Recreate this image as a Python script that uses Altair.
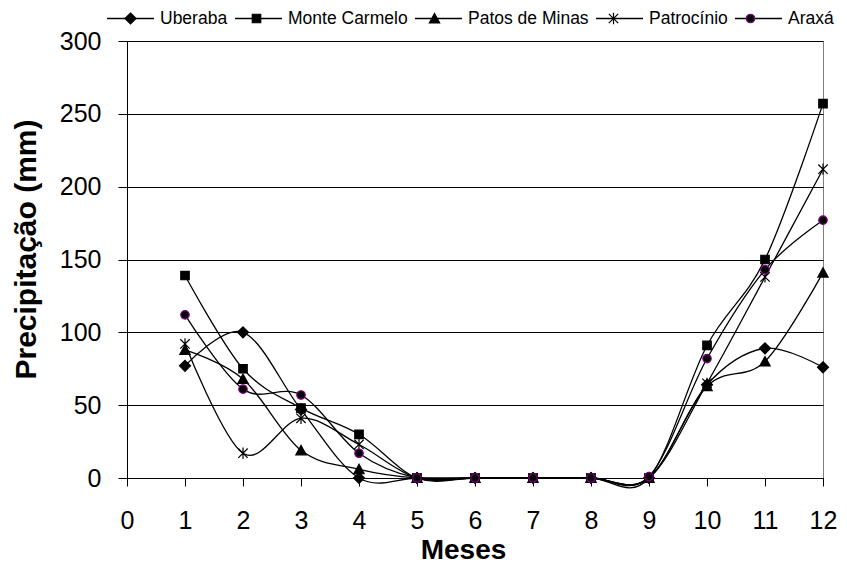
import altair as alt
import pandas as pd

# ---- data ----
months = list(range(1, 13))
series_names = ["Uberaba", "Monte Carmelo", "Patos de Minas", "Patrocínio", "Araxá"]
uberaba = [77, 100, 47, 0, 0, 0, 0, 0, 0, 64, 89, 76]
monte_carmelo = [139, 75, 48, 30, 0, 0, 0, 0, 0, 91, 150, 257]
patos_de_minas = [88, 68, 19, 6, 0, 0, 0, 0, 0, 63, 80, 141]
patrocinio = [92, 17, 41, 23, 0, 0, 0, 0, 0, 65, 138, 212]
araxa = [112, 61, 57, 17, 0, 0, 0, 0, 1, 82, 143, 177]
y_ticks = [0, 50, 100, 150, 200, 250, 300]
x_ticks = list(range(0, 13))

values = [uberaba, monte_carmelo, patos_de_minas, patrocinio, araxa]
rows = []
for name, vals in zip(series_names, values):
    for m, v in zip(months, vals):
        rows.append({"month": m, "value": v, "series": name, "serie_l": name})
df = pd.DataFrame(rows)

# ---- styling ----
FONT = "Liberation Sans"
SYM = 2209  # legend symbol size -> 47 px line
marker_paths = [
    "M0,-0.234L0.234,0L0,0.234L-0.234,0Z",                       # diamond
    "M-0.18,-0.18L0.18,-0.18L0.18,0.18L-0.18,0.18Z",             # square
    "M0,-0.21L0.22,0.19L-0.22,0.19Z",                            # triangle
    "M-0.2,-0.2L0.2,0.2M-0.2,0.2L0.2,-0.2M0,-0.24L0,0.24",       # asterisk
    "M0.18,0A0.18,0.18,0,1,1,-0.18,0A0.18,0.18,0,1,1,0.18,0Z",   # circle
]
fill_colors = ["#000000", "#000000", "#000000", "#000000", "#000000"]
stroke_colors = ["#000000", "#000000", "#000000", "#000000", "#800080"]
line_colors = ["#000000"] * 5

def legend(symbol_type=None, visible_labels=True, sw=1.2):
    kw = dict(
        orient="none", legendX=-21, legendY=-47, direction="horizontal",
        columns=5, title=None, symbolSize=SYM, labelFont=FONT, labelFontSize=17.5,
        labelColor="#000000", labelOffset=5, columnPadding=4, padding=0,
        symbolOpacity=1, symbolStrokeWidth=sw, labelOpacity=1 if visible_labels else 0,
    )
    if symbol_type:
        kw["symbolType"] = symbol_type
    return alt.Legend(**kw)

x_enc = alt.X(
    "month:Q",
    scale=alt.Scale(domain=[0, 12], nice=False, zero=False),
    axis=alt.Axis(
        values=x_ticks, format="d", title="Meses", grid=False, tickSize=8, labelPadding=22,
        labelFont=FONT, labelFontSize=25, labelColor="#000000",
        titleFont=FONT, titleFontSize=28, titleFontWeight="bold", titleColor="#000000",
        titleX=336, titleY=72, titleBaseline="middle",
        domainColor="#000000", tickColor="#000000", labelFlush=False,
    ),
)
y_enc = alt.Y(
    "value:Q",
    scale=alt.Scale(domain=[0, 300], nice=False),
    axis=alt.Axis(
        values=y_ticks, title="Precipitação (mm)", grid=True, gridColor="#000000",
        gridOpacity=1, tickSize=9, labelPadding=17,
        labelFont=FONT, labelFontSize=25, labelColor="#000000",
        titleFont=FONT, titleFontSize=30, titleFontWeight="bold", titleColor="#000000",
        titleX=-101, titleY=208, titleBaseline="middle",
        domainColor="#000000", tickColor="#000000", labelFlush=False,
    ),
)

base = alt.Chart(df)

lines = base.mark_line(interpolate="cardinal", tension=0, strokeWidth=1.3).encode(
    x=x_enc,
    y=y_enc,
    color=alt.Color(
        "serie_l:N", sort=series_names,
        scale=alt.Scale(range=line_colors),
        legend=legend(symbol_type="stroke", visible_labels=True, sw=1.3),
    ),
)

pt_legend = legend(visible_labels=False, sw=1.2)
points = base.mark_point(size=SYM, opacity=1, strokeWidth=1.2).encode(
    x=alt.X("month:Q"),
    y=alt.Y("value:Q"),
    shape=alt.Shape("series:N", scale=alt.Scale(domain=series_names, range=marker_paths), legend=pt_legend),
    fill=alt.Fill("series:N", scale=alt.Scale(domain=series_names, range=fill_colors), legend=pt_legend),
    stroke=alt.Stroke("series:N", scale=alt.Scale(domain=series_names, range=stroke_colors), legend=pt_legend),
)

chart = alt.layer(lines, points).properties(
    width=696,
    height=437,
    autosize=alt.AutoSizeParams(type="none"),
    padding={"left": 119, "top": 33, "right": 16, "bottom": 86},
    background="#ffffff",
).configure_view(stroke="#808080", strokeWidth=1)

chart.save("out.html", embed_options={"renderer": "svg", "actions": False})
